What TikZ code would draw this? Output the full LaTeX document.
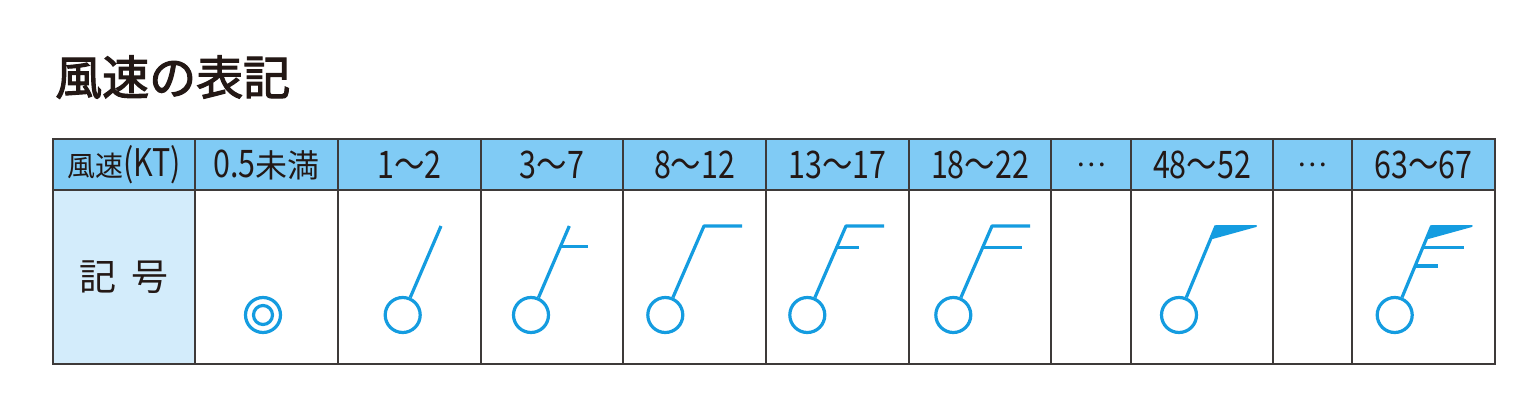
\documentclass[tikz,border=0pt]{standalone}
\usepackage{fontspec}
\setmainfont{Noto Sans CJK JP}
\newfontfamily\titlefont{Noto Sans CJK JP}
\definecolor{headblue}{HTML}{80CBF5}
\definecolor{sideblue}{HTML}{D3ECFB}
\definecolor{gridline}{HTML}{3E3A39}
\definecolor{symblue}{HTML}{149CE0}
\definecolor{titleink}{HTML}{231815}
\newcommand{\digs}[1]{\scalebox{0.8}[1]{\fontsize{38}{38}\selectfont #1}}
\newcommand{\kanj}[1]{{\fontsize{32}{32}\selectfont #1}}
\tikzset{
    headcell/.style={draw=gridline, line width=1.9pt, fill=headblue, minimum height=51pt, inner sep=0pt, text=titleink, font=\fontsize{28}{28}\selectfont},
    bodycell/.style={draw=gridline, line width=1.9pt, fill=white, minimum height=174pt, inner sep=0pt},
    station/.style={draw=symblue, line width=3.2pt, circle, minimum size=35pt, inner sep=0pt},
    staff/.style={draw=symblue, line width=3.2pt, line join=round},
}
\begin{document}
\begin{tikzpicture}[x=1pt, y=-1pt]
    \useasboundingbox (0,0) rectangle (1536,415);
    \fill[white] (0,0) rectangle (1536,415);
    % Title
    \node[anchor=west, inner sep=0pt, text=titleink, font=\fontsize{47}{47}\titlefont] (title) at (55,77) {\special{pdf:code 2 Tr 1.1 w}風速の表記\special{pdf:code 0 Tr}};
    % Table cells
    \foreach \name/\xa/\w/\txt in {a/124/142/風速\digs{(KT)}, b/266.5/143/\digs{0.5}\kanj{未満}, c/409.5/143/\digs{1〜2}, d/552/142/\digs{3〜7}, e/694.5/143/\digs{8〜12}, f/837.5/143/\digs{13〜17}, g/980/142/\digs{18〜22}, h/1091/80/…, i/1202/142/\digs{48〜52}, j/1312.5/79/…, k/1423.5/143/\digs{63〜67}}{
        \node[headcell, minimum width=\w pt] (head\name) at (\xa,164.5) {\txt};
        \node[bodycell, minimum width=\w pt] (body\name) at (\xa,277) {};
    }
    \node[bodycell, minimum width=142pt, fill=sideblue, text=titleink, font=\fontsize{37}{37}\selectfont] (bodya) at (124,277) {記\hspace{0.4em}号};
    % Calm mark
    \node[station] (calm) at (263,315) {};
    \node[station, minimum size=19pt] (calmin) at (263,315) {};
    % Stations with staffs
    \foreach \name/\xa/\xb in {c/402.7/441, d/531/569.3, e/665.3/704, f/807.3/846, g/953.3/992, i/1179/1216, k/1394.7/1431.7}{
        \node[station] (st\name) at (\xa,315) {};
        \coordinate (top\name) at (\xb,226);
    }
    \draw[staff] (stc) -- (topc);
    \draw[staff] (std) -- (topd);
    \draw[staff] (ste) -- (tope) -- (742,226);
    \draw[staff] (stf) -- (topf) -- (884,226);
    \draw[staff] (stg) -- (topg) -- (1030,226);
    \draw[staff] (sti) -- (topi);
    \draw[staff] (stk) -- (topk);
    % Barbs
    \foreach \xa/\xb/\y in {561/588/246.5, 836.7/859/247.7, 983/1022/247.7, 1423/1463.7/247.7, 1415/1438/266}{
        \draw[staff] (\xa,\y) -- (\xb,\y);
    }
    % Pennants
    \fill[symblue, draw=symblue, line width=2pt, line join=round] (topi) -- (1256,226) -- (1212.5,238) -- cycle;
    \fill[symblue, draw=symblue, line width=2pt, line join=round] (topk) -- (1471.7,226) -- (1428.2,238) -- cycle;
\end{tikzpicture}
\end{document}
